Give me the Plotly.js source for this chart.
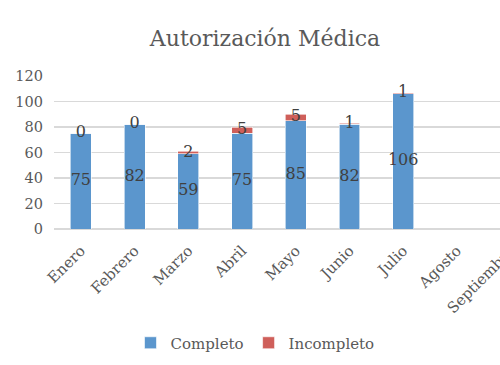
<!DOCTYPE html>
<html>
<head>
<meta charset="utf-8">
<script src="https://cdn.plot.ly/plotly-3.0.1.min.js"></script>
<style>
html,body{margin:0;padding:0;overflow:hidden;background:#fff;width:500px;height:365px;}
#chart{width:530px;height:365px;}
</style>
</head>
<body>
<div id="chart"></div>
<script>
const months = ["Enero","Febrero","Marzo","Abril","Mayo","Junio","Julio","Agosto","Septiembre"];
const completo = [75, 82, 59, 75, 85, 82, 106, null, null];
const incompleto = [0, 0, 2, 5, 5, 1, 1, null, null];

const FONT = "DejaVu Serif";
const blue = "#5B96CD";
const red = "#CF5F5A";

const labelC_x = [], labelC_y = [], labelC_t = [];
const labelI_x = [], labelI_y = [], labelI_t = [];
months.forEach((m, i) => {
  if (completo[i] != null) {
    labelC_x.push(m); labelC_y.push(completo[i] / 2); labelC_t.push(String(completo[i]));
  }
  if (incompleto[i] != null) {
    labelI_x.push(m); labelI_y.push(completo[i] + incompleto[i] / 2); labelI_t.push(String(incompleto[i]));
  }
});

const traces = [
  {type: "bar", name: "Completo", x: months, y: completo,
   marker: {color: blue, line: {color: "#ffffff", width: 0.6}}, hoverinfo: "skip"},
  {type: "bar", name: "Incompleto", x: months, y: incompleto,
   marker: {color: red, line: {color: "#ffffff", width: 0.6}}, hoverinfo: "skip"},
  {type: "scatter", mode: "text", x: labelC_x, y: labelC_y, text: labelC_t,
   textposition: "middle center", textfont: {family: FONT, size: 16, color: "#404040"},
   showlegend: false, hoverinfo: "skip"},
  {type: "scatter", mode: "text", x: labelI_x, y: labelI_y, text: labelI_t,
   textposition: "middle center", textfont: {family: FONT, size: 16, color: "#404040"},
   showlegend: false, hoverinfo: "skip"}
];

const layout = {
  width: 530, height: 365,
  margin: {l: 54, r: 0, t: 76, b: 136},
  paper_bgcolor: "#ffffff", plot_bgcolor: "#ffffff",
  font: {family: FONT, color: "#595959"},
  title: {text: "Autorización Médica", font: {family: FONT, size: 22, color: "#595959"},
          x: 0.5, xanchor: "center", y: 1 - 38/365, yanchor: "middle"},
  barmode: "stack",
  bargap: 0.61,
  xaxis: {type: "category", categoryorder: "array", categoryarray: months,
          range: [-0.5, 8.36], tickangle: -45, ticks: "", showgrid: false,
          tickfont: {family: FONT, size: 15, color: "#595959"}, showline: false,
          zeroline: false, fixedrange: true, ticklabelstandoff: 9},
  yaxis: {range: [0, 120], dtick: 20, tick0: 0, showgrid: true, gridcolor: "#D9D9D9",
          gridwidth: 1.5, zeroline: true, zerolinecolor: "#D9D9D9", zerolinewidth: 1.5,
          tickfont: {family: FONT, size: 14.5, color: "#595959"}, ticks: "", showline: false,
          fixedrange: true, ticklabelstandoff: 10},
  showlegend: true,
  legend: {orientation: "h", xref: "container", yref: "container",
           x: 255/530, xanchor: "center", y: 1 - 343/365, yanchor: "middle",
           itemwidth: 30, font: {family: FONT, size: 15, color: "#595959"}, traceorder: "normal"}
};

Plotly.newPlot("chart", traces, layout, {displayModeBar: false, staticPlot: true});
</script>
</body>
</html>
